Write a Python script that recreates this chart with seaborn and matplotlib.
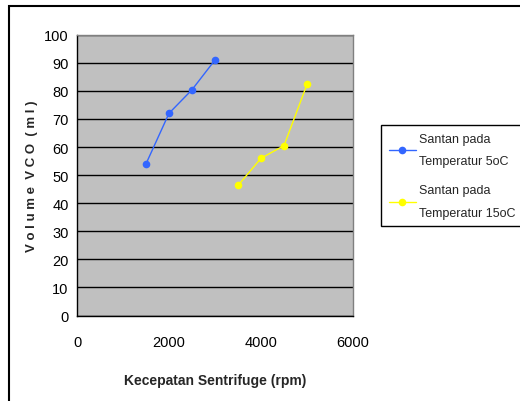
import matplotlib
matplotlib.use("Agg")
import matplotlib.pyplot as plt
import seaborn as sns
import pandas as pd
from matplotlib.patches import Rectangle

speed_5 = [1500, 2000, 2500, 3000]
vol_5 = [54, 72, 80.4, 91]
speed_15 = [3500, 4000, 4500, 5000]
vol_15 = [46.3, 56, 60.5, 82.3]
series_names = ["Santan pada\nTemperatur 5oC", "Santan pada\nTemperatur 15oC"]
x_ticks = [0, 2000, 4000, 6000]
y_ticks = list(range(0, 101, 10))

df = pd.DataFrame({
    "speed": speed_5 + speed_15,
    "vol": vol_5 + vol_15,
    "series": [series_names[0]] * len(speed_5) + [series_names[1]] * len(speed_15),
})

sns.set_style("white")
plt.rcParams["font.family"] = ["Liberation Sans", "DejaVu Sans"]

fig = plt.figure(figsize=(5.2, 4.02), dpi=100)
fig.patch.set_facecolor("white")
ax = fig.add_axes([77 / 520, 1 - 316.5 / 402, (353 - 77) / 520, (316.5 - 35.7) / 402])
ax.set_facecolor("#C0C0C0")

palette = {series_names[0]: "#3366FF", series_names[1]: "#FFFF00"}
sns.lineplot(data=df, x="speed", y="vol", hue="series", palette=palette,
             marker="o", markersize=5.5, markeredgewidth=0, linewidth=1,
             ax=ax, legend=True, zorder=3)

ax.set_xlim(0, 6000)
ax.set_ylim(0, 100)
ax.set_xticks(x_ticks)
ax.set_yticks(y_ticks)
ax.yaxis.grid(True, color="black", linewidth=1)
ax.xaxis.grid(False)
ax.set_axisbelow(True)
for s in ["left", "bottom"]:
    ax.spines[s].set_color("black")
    ax.spines[s].set_linewidth(1)
for s in ["top", "right"]:
    ax.spines[s].set_color("#808080")
    ax.spines[s].set_linewidth(1)
ax.tick_params(axis="both", labelsize=10.5, colors="black", length=4, width=1, direction="out")
ax.tick_params(axis="y", pad=2)
ax.tick_params(axis="x", pad=10)

ax.set_xlabel("Kecepatan Sentrifuge (rpm)", fontsize=10, fontweight="bold", labelpad=17)
ax.set_ylabel("V o l u m e  V C O  ( m l )", fontsize=9.5, fontweight="bold", labelpad=4)

handles, labels = ax.get_legend_handles_labels()
ax.legend_.remove()
leg = fig.legend(handles, labels, loc="upper left",
                 bbox_to_anchor=(381 / 520, 1 - 227 / 402, 160 / 520, 101 / 402),
                 mode="expand", borderaxespad=0,
                 fontsize=9, frameon=True, fancybox=False, edgecolor="black",
                 framealpha=1, borderpad=0.6, handlelength=2.2, handletextpad=0.25,
                 labelspacing=1.35)
for t in leg.get_texts():
    t.set_linespacing(2.2)
leg.get_frame().set_linewidth(1)

fig.patches.append(Rectangle((9 / 520, -0.1), 1.2, 1 - 7 / 402 + 0.1,
                             transform=fig.transFigure, fill=False,
                             edgecolor="black", linewidth=1.5))

fig.savefig("out.png", dpi=100)
